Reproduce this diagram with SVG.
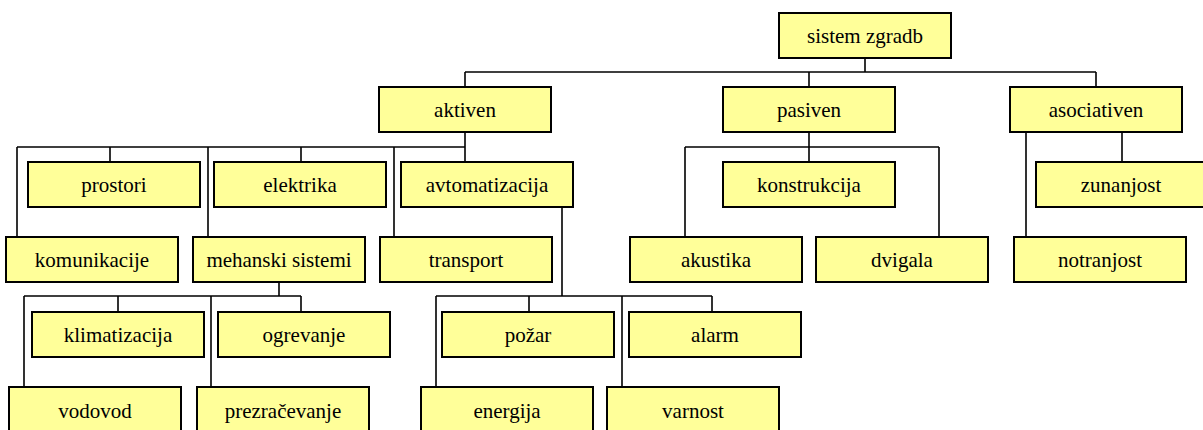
<svg xmlns="http://www.w3.org/2000/svg" width="1203" height="430" viewBox="0 0 1203 430">
<style>
.n rect{fill:#FFFF99;stroke:#000;stroke-width:2}
.n text{font-family:"Liberation Serif","Times New Roman",serif;font-size:21px;fill:#000;text-anchor:middle}
#connectors path{fill:none;stroke:#000;stroke-width:1.6}
</style>
<rect width="1203" height="430" fill="#fff"/>
<g id="connectors">
<path d="M865 58V72M465 72H1096M465 72V87M809 72V87M1096 72V87"/>
<path d="M465 132V162M17 147H465M17 147V237M110 147V162M208 147V237M301 147V162M394 147V237"/>
<path d="M809 132V162M685 147H939M685 147V237M939 147V237"/>
<path d="M1026 132V237M1122 132V162"/>
<path d="M279 282V296M24 296H301M24 296V387M118 296V312M211 296V387M301 296V312"/>
<path d="M562 207V296M436 296H712M436 296V387M529 296V312M622 296V387M712 296V312"/>
</g>
<g id="sistem_zgradb" class="n"><rect x="779" y="13" width="172" height="45"/><text x="865" y="43">sistem zgradb</text></g>
<g id="aktiven" class="n"><rect x="379" y="87" width="172" height="45"/><text x="465" y="117">aktiven</text></g>
<g id="pasiven" class="n"><rect x="723" y="87" width="172" height="45"/><text x="809" y="117">pasiven</text></g>
<g id="asociativen" class="n"><rect x="1010" y="87" width="172" height="45"/><text x="1096" y="117">asociativen</text></g>
<g id="prostori" class="n"><rect x="28" y="162" width="172" height="45"/><text x="114" y="192">prostori</text></g>
<g id="elektrika" class="n"><rect x="214" y="162" width="172" height="45"/><text x="300" y="192">elektrika</text></g>
<g id="avtomatizacija" class="n"><rect x="401" y="162" width="172" height="45"/><text x="487" y="192">avtomatizacija</text></g>
<g id="konstrukcija" class="n"><rect x="723" y="162" width="172" height="45"/><text x="809" y="192">konstrukcija</text></g>
<g id="zunanjost" class="n"><rect x="1036" y="162" width="172" height="45"/><text x="1121" y="192">zunanjost</text></g>
<g id="komunikacije" class="n"><rect x="6" y="237" width="172" height="45"/><text x="92" y="267">komunikacije</text></g>
<g id="mehanski_sistemi" class="n"><rect x="193" y="237" width="172" height="45"/><text x="279" y="267">mehanski sistemi</text></g>
<g id="transport" class="n"><rect x="380" y="237" width="172" height="45"/><text x="466" y="267">transport</text></g>
<g id="akustika" class="n"><rect x="630" y="237" width="172" height="45"/><text x="716" y="267">akustika</text></g>
<g id="dvigala" class="n"><rect x="816" y="237" width="172" height="45"/><text x="902" y="267">dvigala</text></g>
<g id="notranjost" class="n"><rect x="1014" y="237" width="172" height="45"/><text x="1100" y="267">notranjost</text></g>
<g id="klimatizacija" class="n"><rect x="32" y="312" width="172" height="45"/><text x="118" y="342">klimatizacija</text></g>
<g id="ogrevanje" class="n"><rect x="218" y="312" width="172" height="45"/><text x="304" y="342">ogrevanje</text></g>
<g id="pozar" class="n"><rect x="442" y="312" width="172" height="45"/><text x="528" y="342">požar</text></g>
<g id="alarm" class="n"><rect x="629" y="312" width="172" height="45"/><text x="715" y="342">alarm</text></g>
<g id="vodovod" class="n"><rect x="9" y="387" width="172" height="45"/><text x="95" y="418">vodovod</text></g>
<g id="prezracevanje" class="n"><rect x="197" y="387" width="172" height="45"/><text x="283" y="418">prezračevanje</text></g>
<g id="energija" class="n"><rect x="421" y="387" width="172" height="45"/><text x="507" y="418">energija</text></g>
<g id="varnost" class="n"><rect x="607" y="387" width="172" height="45"/><text x="693" y="418">varnost</text></g>
</svg>
